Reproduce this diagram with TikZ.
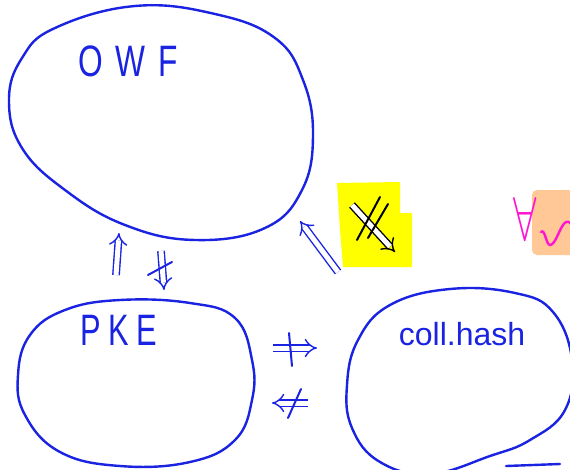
\documentclass[tikz,border=0pt]{standalone}
\usepackage{fontspec}
\setmainfont{Liberation Sans}
\usetikzlibrary{arrows.meta}
\definecolor{penblue}{RGB}{25,35,225}
\definecolor{hlyellow}{RGB}{255,255,0}
\definecolor{penpink}{RGB}{255,20,210}
\definecolor{peach}{RGB}{255,200,150}
\tikzset{
  pen/.style={draw=penblue, line width=2.4pt, line cap=round, line join=round},
  impl/.style={draw=penblue, line width=1.4pt, double distance=5pt, line cap=butt, -{Implies[length=8pt]}},
  hand/.style={text=penblue, inner sep=0pt},
}
\begin{document}
\begin{tikzpicture}[x=1pt,y=-1pt]
\useasboundingbox (0,0) rectangle (570,469);
\clip (0,0) rectangle (570,469);
\fill[white] (0,0) rectangle (570,469);

% blobs
\draw[pen] plot[smooth cycle, tension=0.7] coordinates {(135,6) (215,14) (275,38) (303,80) (313,135) (302,190) (265,228) (195,240) (125,225) (65,190) (22,148) (9,100) (22,58) (55,28)};
\draw[pen] plot[smooth cycle, tension=0.7] coordinates {(120,300) (190,303) (235,318) (252,360) (252,400) (235,440) (190,462) (120,466) (60,452) (25,415) (18,375) (30,335) (65,310)};
\draw[pen] plot[smooth cycle, tension=0.7] coordinates {(450,289) (515,293) (553,312) (572,360) (565,410) (530,440) (490,456) (430,474) (380,462) (352,428) (347,385) (358,340) (390,305)};
\draw[pen] (506,466) -- (560,464);

% labels
\node[hand, font=\fontsize{44}{44}\selectfont\addfontfeature{LetterSpace=40}, xscale=0.72] (owf) at (128,61) {OWF};
\node[hand, font=\fontsize{44}{44}\selectfont\addfontfeature{LetterSpace=25}, xscale=0.7] (pke) at (119,330) {PKE};
\node[hand, font=\fontsize{32}{32}\selectfont, anchor=base] (coll) at (462,345) {coll.hash};

% highlight
\fill[hlyellow] (337,183) -- (400,182) -- (400,213) -- (412,213) -- (412,267) -- (343,267) -- (340,230) -- cycle;

% arrows
\coordinate (a1s) at (116,275); \coordinate (a1e) at (119,233);
\draw[impl] (a1s) -- (a1e);
\coordinate (a2s) at (161,251); \coordinate (a2e) at (164,290);
\draw[impl] (a2s) -- (a2e);
\draw[pen, line width=2pt] (148,275) -- (172,262);

\coordinate (a3s) at (338,272); \coordinate (a3e) at (300,221);
\draw[impl] (a3s) -- (a3e);

\coordinate (a4s) at (352,205); \coordinate (a4e) at (395,252);
\draw[impl, draw=black] (a4s) -- (a4e);
\draw[black, line width=2pt, line cap=round] (357,240) -- (380,197);
\draw[black, line width=2pt, line cap=round] (368,238) -- (388,204);

\coordinate (a5s) at (273,348); \coordinate (a5e) at (317,348);
\draw[impl] (a5s) -- (a5e);
\draw[pen, line width=2pt] (289,333) -- (292,366);

\coordinate (a6s) at (308,403); \coordinate (a6e) at (272,403);
\draw[impl] (a6s) -- (a6e);
\draw[pen, line width=2pt] (288,418) -- (301,389);

% pink annotations
\fill[peach, rounded corners=5pt] (532,190) rectangle (580,255);
\node[text=penpink, inner sep=0pt, xscale=4.2, yscale=6.2] (forall) at (525,219) {$\forall$};
\draw[penpink, line width=2.4pt, line cap=round] (541,232) .. controls (545,228) and (546,245) .. (550,245) .. controls (556,245) and (560,225) .. (566,222) .. controls (572,220) and (574,230) .. (572,240);
\end{tikzpicture}
\end{document}
